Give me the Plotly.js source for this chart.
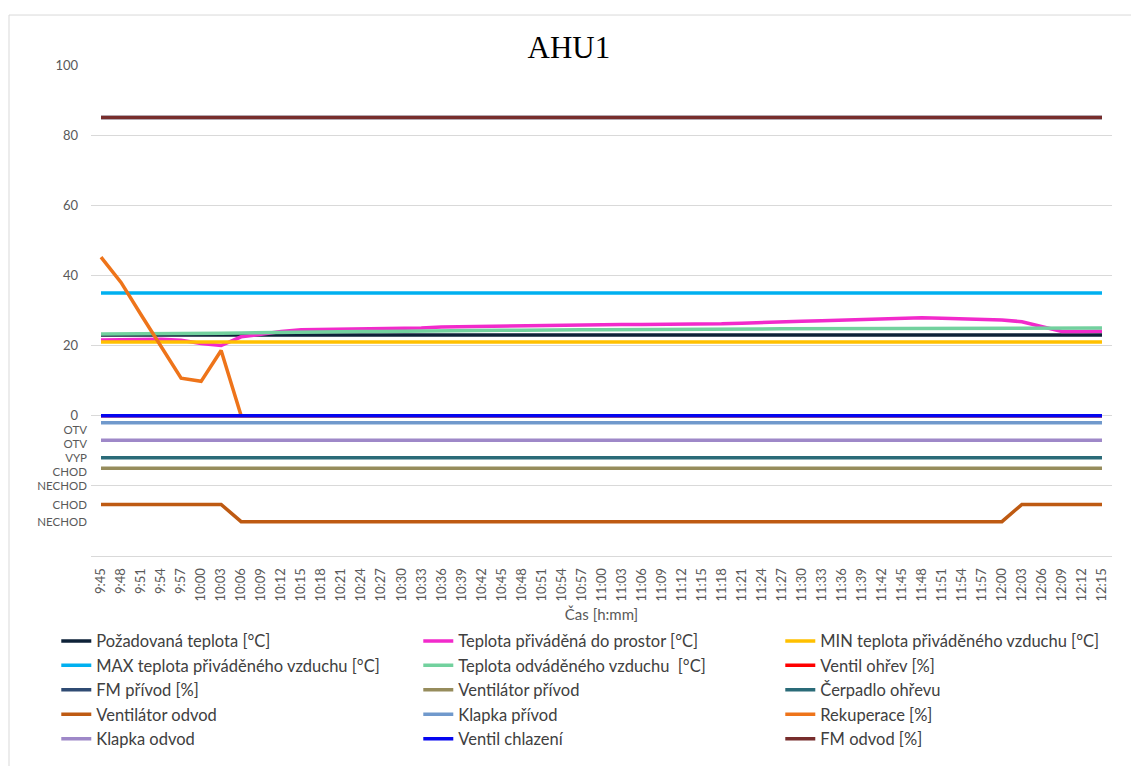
<!DOCTYPE html>
<html>
<head>
<meta charset="utf-8">
<script src="https://cdn.plot.ly/plotly-3.0.1.min.js"></script>
<style>html,body{margin:0;padding:0;background:#fff;}#chart{width:1131px;height:766px;}</style>
</head>
<body>
<div id="chart"></div>
<script>
const times = ['9:45','9:48','9:51','9:54','9:57','10:00','10:03','10:06','10:09','10:12','10:15','10:18','10:21','10:24','10:27','10:30','10:33','10:36','10:39','10:42','10:45','10:48','10:51','10:54','10:57','11:00','11:03','11:06','11:09','11:12','11:15','11:18','11:21','11:24','11:27','11:30','11:33','11:36','11:39','11:42','11:45','11:48','11:51','11:54','11:57','12:00','12:03','12:06','12:09','12:12','12:15'];

const pozadovanaTeplota = [23,23,23,23,23,23,23,23,23,23, 23,23,23,23,23,23,23,23,23,23, 23,23,23,23,23,23,23,23,23,23, 23,23,23,23,23,23,23,23,23,23, 23,23,23,23,23,23,23,23,23,23, 23];
const teplotaPrivadena = [21.6,21.7,21.9,21.8,21.5,20.6,20.0,22.5,23.2,24.0, 24.5,24.6,24.6,24.6,24.8,24.9,25.0,25.3,25.4,25.4, 25.5,25.6,25.7,25.9,26.0,26.0,26.0,26.0,26.0,26.0, 26.0,26.2,26.4,26.5,26.7,26.9,27.1,27.3,27.4,27.6, 27.8,27.9,27.8,27.7,27.5,27.3,26.8,25.3,24.0,24.0, 24.1];
const minTeplota = [21,21,21,21,21,21,21,21,21,21, 21,21,21,21,21,21,21,21,21,21, 21,21,21,21,21,21,21,21,21,21, 21,21,21,21,21,21,21,21,21,21, 21,21,21,21,21,21,21,21,21,21, 21];
const maxTeplota = [35,35,35,35,35,35,35,35,35,35, 35,35,35,35,35,35,35,35,35,35, 35,35,35,35,35,35,35,35,35,35, 35,35,35,35,35,35,35,35,35,35, 35,35,35,35,35,35,35,35,35,35, 35];
const teplotaOdvadena = [23.3,23.3,23.4,23.4,23.4,23.5,23.5,23.6,23.7,23.7, 23.8,23.9,23.9,24.0,24.0,24.1,24.2,24.2,24.3,24.3, 24.4,24.4,24.5,24.5,24.5,24.5,24.5,24.6,24.6,24.6, 24.6,24.7,24.7,24.7,24.8,24.8,24.9,25.0,25.0,25.0, 25.0,25.0,25.0,25.0,25.0,25.0,25.0,25.0,25.0,25.0, 25.0];
const ventilOhrev = [0,0,0,0,0,0,0,0,0,0, 0,0,0,0,0,0,0,0,0,0, 0,0,0,0,0,0,0,0,0,0, 0,0,0,0,0,0,0,0,0,0, 0,0,0,0,0,0,0,0,0,0, 0];
const fmPrivod = [85,85,85,85,85,85,85,85,85,85, 85,85,85,85,85,85,85,85,85,85, 85,85,85,85,85,85,85,85,85,85, 85,85,85,85,85,85,85,85,85,85, 85,85,85,85,85,85,85,85,85,85, 85];
const ventilatorPrivod = [-15,-15,-15,-15,-15,-15,-15,-15,-15,-15, -15,-15,-15,-15,-15,-15,-15,-15,-15,-15, -15,-15,-15,-15,-15,-15,-15,-15,-15,-15, -15,-15,-15,-15,-15,-15,-15,-15,-15,-15, -15,-15,-15,-15,-15,-15,-15,-15,-15,-15, -15];
const cerpadloOhrevu = [-12,-12,-12,-12,-12,-12,-12,-12,-12,-12, -12,-12,-12,-12,-12,-12,-12,-12,-12,-12, -12,-12,-12,-12,-12,-12,-12,-12,-12,-12, -12,-12,-12,-12,-12,-12,-12,-12,-12,-12, -12,-12,-12,-12,-12,-12,-12,-12,-12,-12, -12];
const ventilatorOdvod = [-25.3,-25.3,-25.3,-25.3,-25.3,-25.3,-25.3,-30.2,-30.2,-30.2, -30.2,-30.2,-30.2,-30.2,-30.2,-30.2,-30.2,-30.2,-30.2,-30.2, -30.2,-30.2,-30.2,-30.2,-30.2,-30.2,-30.2,-30.2,-30.2,-30.2, -30.2,-30.2,-30.2,-30.2,-30.2,-30.2,-30.2,-30.2,-30.2,-30.2, -30.2,-30.2,-30.2,-30.2,-30.2,-30.2,-25.3,-25.3,-25.3,-25.3, -25.3];
const klapkaPrivod = [-2,-2,-2,-2,-2,-2,-2,-2,-2,-2, -2,-2,-2,-2,-2,-2,-2,-2,-2,-2, -2,-2,-2,-2,-2,-2,-2,-2,-2,-2, -2,-2,-2,-2,-2,-2,-2,-2,-2,-2, -2,-2,-2,-2,-2,-2,-2,-2,-2,-2, -2];
const rekuperace = [45.2,38.0,28.8,19.7,10.7,9.8,18.6,0,0,0, 0,0,0,0,0,0,0,0,0,0, 0,0,0,0,0,0,0,0,0,0, 0,0,0,0,0,0,0,0,0,0, 0,0,0,0,0,0,0,0,0,0, 0];
const klapkaOdvod = [-7,-7,-7,-7,-7,-7,-7,-7,-7,-7, -7,-7,-7,-7,-7,-7,-7,-7,-7,-7, -7,-7,-7,-7,-7,-7,-7,-7,-7,-7, -7,-7,-7,-7,-7,-7,-7,-7,-7,-7, -7,-7,-7,-7,-7,-7,-7,-7,-7,-7, -7];
const ventilChlazeni = [0,0,0,0,0,0,0,0,0,0, 0,0,0,0,0,0,0,0,0,0, 0,0,0,0,0,0,0,0,0,0, 0,0,0,0,0,0,0,0,0,0, 0,0,0,0,0,0,0,0,0,0, 0];
const fmOdvod = [85,85,85,85,85,85,85,85,85,85, 85,85,85,85,85,85,85,85,85,85, 85,85,85,85,85,85,85,85,85,85, 85,85,85,85,85,85,85,85,85,85, 85,85,85,85,85,85,85,85,85,85, 85];

const numTickVals = [-20, 0, 20, 40, 60, 80, 100];
const numTickText = ['', '0', '20', '40', '60', '80', '100'];
const stateTickVals = [-4.0, -8.0, -12.0, -16.0, -20, -25.4, -30.2];
const stateTickText = ['OTV', 'OTV', 'VYP', 'CHOD', 'NECHOD', 'CHOD', 'NECHOD'];

const FONT = 'Lato, "Liberation Sans", sans-serif';

const series = [
  {name: 'Požadovaná teplota [°C]', y: pozadovanaTeplota, color: '#0E2238', ax: 'y'},
  {name: 'Teplota přiváděná do prostor [°C]', y: teplotaPrivadena, color: '#F22ACB', ax: 'y'},
  {name: 'MIN teplota přiváděného vzduchu [°C]', y: minTeplota, color: '#FFC000', ax: 'y'},
  {name: 'MAX teplota přiváděného vzduchu [°C]', y: maxTeplota, color: '#00B0F0', ax: 'y'},
  {name: 'Teplota odváděného vzduchu  [°C]', y: teplotaOdvadena, color: '#72D19E', ax: 'y'},
  {name: 'Ventil ohřev [%]', y: ventilOhrev, color: '#FF0000', ax: 'y'},
  {name: 'FM přívod [%]', y: fmPrivod, color: '#2F4B73', ax: 'y'},
  {name: 'Ventilátor přívod', y: ventilatorPrivod, color: '#968C5C', ax: 'y2'},
  {name: 'Čerpadlo ohřevu', y: cerpadloOhrevu, color: '#2A6B78', ax: 'y2'},
  {name: 'Ventilátor odvod', y: ventilatorOdvod, color: '#BE5A12', ax: 'y2'},
  {name: 'Klapka přívod', y: klapkaPrivod, color: '#7099CC', ax: 'y2'},
  {name: 'Rekuperace [%]', y: rekuperace, color: '#EE741A', ax: 'y'},
  {name: 'Klapka odvod', y: klapkaOdvod, color: '#9E88C8', ax: 'y2'},
  {name: 'Ventil chlazení', y: ventilChlazeni, color: '#0505F0', ax: 'y2'},
  {name: 'FM odvod [%]', y: fmOdvod, color: '#772D2C', ax: 'y2'}
];

const traces = series.map(s => ({
  type: 'scatter', mode: 'lines', name: s.name, x: times, y: s.y, yaxis: s.ax,
  line: {color: s.color, width: 3.5}, hoverinfo: 'x+y+name'
}));

const layout = {
  width: 1131, height: 766,
  margin: {l: 91, r: 19, t: 65, b: 210, autoexpand: false},
  paper_bgcolor: '#ffffff', plot_bgcolor: '#ffffff',
  showlegend: true,
  title: {text: 'AHU1', font: {family: '"Liberation Serif", "Times New Roman", serif', size: 31, color: '#000000'},
          x: 0.503, xanchor: 'center', xref: 'container', y: 0.938, yanchor: 'middle', yref: 'container'},
  xaxis: {type: 'category', range: [-0.5, 50.5], tickangle: -90, ticks: '', showgrid: false,
          showline: true, linecolor: '#D9D9D9', linewidth: 1, zeroline: false,
          tickfont: {family: FONT, size: 13, color: '#595959'}, ticklabelstandoff: 6,
          title: {text: 'Čas [h:mm]', font: {family: FONT, size: 15, color: '#595959'}, standoff: 8}},
  yaxis: {range: [-40, 100], tickvals: numTickVals, ticktext: numTickText, ticks: '',
          showgrid: true, gridcolor: '#D9D9D9', gridwidth: 1, zeroline: false, showline: false,
          tickfont: {family: FONT, size: 13, color: '#595959'}, ticklabelstandoff: 12},
  yaxis2: {range: [-40, 100], overlaying: 'y', side: 'left', tickvals: stateTickVals, ticktext: stateTickText,
           ticks: '', showgrid: false, zeroline: false, showline: false,
           tickfont: {family: FONT, size: 11.5, color: '#595959'}, ticklabelstandoff: 3},
  legend: {orientation: 'h', x: -0.034, xanchor: 'left', y: -0.1378, yanchor: 'top',
           entrywidth: 317, entrywidthmode: 'pixels', traceorder: 'normal',
           font: {family: FONT, size: 16.5, color: '#404040'}, bgcolor: 'rgba(0,0,0,0)'},
  shapes: [{type: 'rect', xref: 'paper', yref: 'paper', x0: -0.0803, x1: 1.05, y0: -1, y1: 1.1018,
            line: {color: '#D9D9D9', width: 1}, fillcolor: 'rgba(0,0,0,0)', layer: 'below'}]
};

Plotly.newPlot('chart', traces, layout, {displayModeBar: false, staticPlot: true});
</script>
</body>
</html>
